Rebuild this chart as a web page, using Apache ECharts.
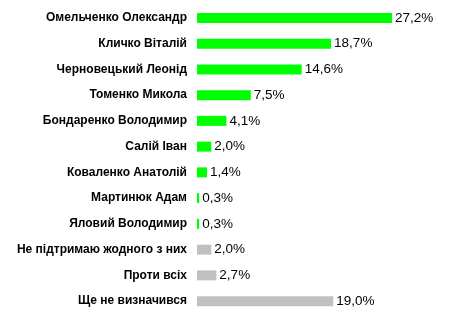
<!DOCTYPE html>
<html><head><meta charset="utf-8">
<script src="https://cdn.jsdelivr.net/npm/echarts@6/dist/echarts.min.js"></script>
<style>html,body{margin:0;padding:0;background:#fff}#c{width:450px;height:319px}</style>
</head><body><div id="c"></div>
<script>
const categories = ["Омельченко Олександр","Кличко Віталій","Черновецький Леонід","Томенко Микола","Бондаренко Володимир","Салій Іван","Коваленко Анатолій","Мартинюк Адам","Яловий Володимир","Не підтримаю жодного з них","Проти всіх","Ще не визначився"];
const values = [27.2,18.7,14.6,7.5,4.1,2.0,1.4,0.3,0.3,2.0,2.7,19.0];
const isCandidate = [true,true,true,true,true,true,true,true,true,false,false,false];
const chart = echarts.init(document.getElementById('c'), null, {renderer:'canvas'});
chart.setOption({
  animation:false,
  grid:{left:197,right:2,top:5,bottom:5,containLabel:false},
  xAxis:{type:'value',min:0,max:35,show:false},
  yAxis:{type:'category',data:categories,inverse:true,
    axisLine:{show:false},axisTick:{show:false},splitLine:{show:false},
    axisLabel:{margin:10,color:'#000',fontFamily:'Liberation Sans, Arial',fontWeight:'bold',fontSize:12}},
  series:[{type:'bar',barWidth:10,
    data:values.map((v,i)=>({value:v,itemStyle:{color:isCandidate[i]?'#00FF00':'#C0C0C0'}})),
    label:{show:true,position:'right',distance:3,color:'#000',fontFamily:'Liberation Sans, Arial',fontSize:13.5,
      formatter:p=>p.value.toFixed(1).replace('.',',')+'%'}}]
});
</script></body></html>
